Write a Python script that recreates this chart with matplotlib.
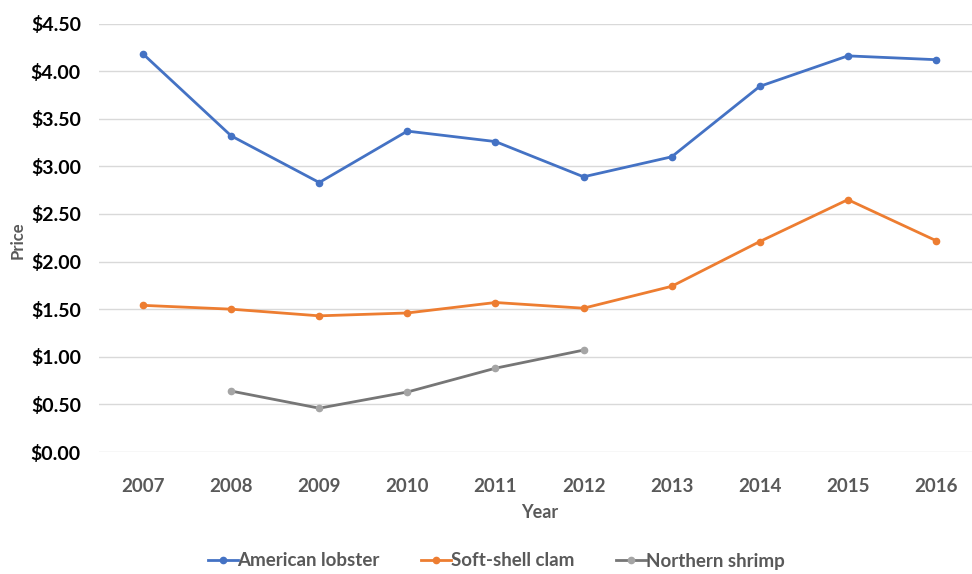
import matplotlib
matplotlib.use("Agg")
import matplotlib.pyplot as plt
from matplotlib.ticker import FuncFormatter

years = [2007, 2008, 2009, 2010, 2011, 2012, 2013, 2014, 2015, 2016]
lobster = [4.18, 3.32, 2.83, 3.37, 3.26, 2.89, 3.10, 3.84, 4.16, 4.12]
clam = [1.54, 1.50, 1.43, 1.46, 1.57, 1.51, 1.74, 2.21, 2.65, 2.22]
shrimp_years = [2008, 2009, 2010, 2011, 2012]
shrimp = [0.64, 0.46, 0.63, 0.88, 1.07]
yticks = [0, 0.5, 1.0, 1.5, 2.0, 2.5, 3.0, 3.5, 4.0, 4.5]

plt.rcParams['font.family'] = ['Lato', 'DejaVu Sans']

fig = plt.figure(figsize=(9.72, 5.74), dpi=100)
ax = fig.add_axes([99/972, 1 - 452/574, 881/972, (452 - 23.5)/574])

ax.plot(years, lobster, color='#4472C4', lw=2, marker='o', ms=4.5, label='American lobster', zorder=3)
ax.plot(years, clam, color='#ED7D31', lw=2, marker='o', ms=4.5, label='Soft-shell clam', zorder=3)
ax.plot(shrimp_years, shrimp, color='#767676', lw=2, marker='o', ms=4.5,
        markerfacecolor='#A5A5A5', markeredgecolor='#A5A5A5', label='Northern shrimp', zorder=3)

ax.set_xlim(2006.5, 2016.5)
ax.set_ylim(0, 4.5)
ax.set_yticks(yticks)
ax.set_xticks(years)
ax.yaxis.set_major_formatter(FuncFormatter(lambda v, p: f"${v:.2f}"))
ax.grid(axis='y', color='#D9D9D9', lw=1)
ax.set_axisbelow(True)
for s in ax.spines.values():
    s.set_visible(False)
ax.tick_params(axis='both', length=0)
ax.tick_params(axis='y', labelsize=14, pad=13, labelcolor='#000000')
ax.tick_params(axis='x', labelsize=13.5, pad=19, labelcolor='#595959')
for lab in ax.get_yticklabels() + ax.get_xticklabels():
    lab.set_fontweight('bold')

fig.text(18/972, 1 - 240/574, 'Price', rotation=90, fontsize=12, fontweight='bold',
         color='#595959', ha='center', va='center')
fig.text(540/972, 1 - 513/574, 'Year', fontsize=13, fontweight='bold',
         color='#595959', ha='center', va='center')

leg = fig.legend(loc='center', bbox_to_anchor=(496/972, 1 - 561/574), ncol=3, frameon=False,
                 handlelength=1.6, handletextpad=0.0, columnspacing=2.2,
                 prop={'weight': 'bold', 'size': 13.5})
for t in leg.get_texts():
    t.set_color('#595959')

fig.savefig('out.png', dpi=100)
